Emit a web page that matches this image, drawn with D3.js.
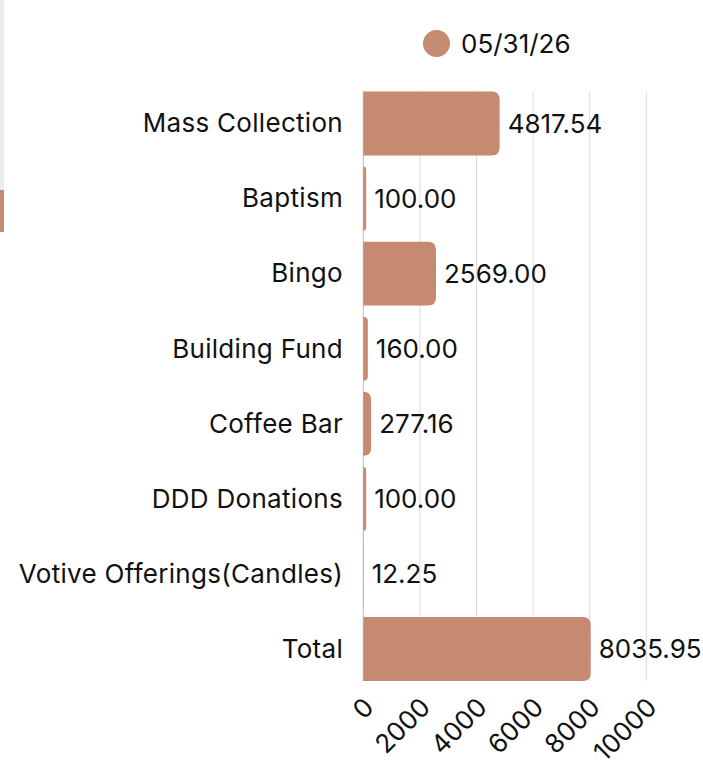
<!DOCTYPE html>
<html>
<head>
<meta charset="utf-8">
<script src="https://cdn.jsdelivr.net/npm/d3@7"></script>
<style>
  body { margin: 0; background: #fff; }
  svg { display: block; font-family: "Inter", "Noto Sans", sans-serif; }
</style>
</head>
<body>
<svg width="703" height="768"></svg>
<script>
// data
const categories = ["Mass Collection", "Baptism", "Bingo", "Building Fund", "Coffee Bar", "DDD Donations", "Votive Offerings(Candles)", "Total"];
const values = [4817.54, 100.00, 2569.00, 160.00, 277.16, 100.00, 12.25, 8035.95];
const seriesName = "05/31/26";
const tickValues = [0, 2000, 4000, 6000, 8000, 10000];

const barColor = "#c68a70";

const svg = d3.select("svg");

// strip on the left edge
svg.append("rect").attr("x", 0).attr("y", 0).attr("width", 4).attr("height", 190).attr("fill", "#ebebeb");
svg.append("rect").attr("x", 0).attr("y", 190).attr("width", 4).attr("height", 42).attr("fill", barColor);

const x = d3.scaleLinear().domain([0, 10000]).range([363.3, 646.3]);
const y = d3.scaleBand().domain(categories).range([91.5, 681]).paddingInner(0.148).paddingOuter(0);

// grid lines
svg.append("g").selectAll("line")
  .data(tickValues)
  .enter()
  .append("line")
  .attr("x1", d => x(d)).attr("x2", d => x(d))
  .attr("y1", y.range()[0]).attr("y2", y.range()[1])
  .attr("stroke", d => d === 0 ? "#b8b8b8" : "#dcdcdc")
  .attr("stroke-width", 1);

// bars with rounded right end
function barPath(d, i) {
  const x0 = x(0), x1 = x(d), y0 = y(categories[i]), h = y.bandwidth();
  const w = x1 - x0;
  const r = Math.min(8, w, h / 2);
  return `M${x0},${y0}H${x1 - r}Q${x1},${y0} ${x1},${y0 + r}V${y0 + h - r}Q${x1},${y0 + h} ${x1 - r},${y0 + h}H${x0}Z`;
}
svg.append("g").selectAll("path")
  .data(values)
  .enter()
  .append("path")
  .attr("d", barPath)
  .attr("fill", barColor);

// value labels
svg.append("g").selectAll("text")
  .data(values)
  .enter()
  .append("text")
  .attr("x", d => x(d) + 8)
  .attr("y", (d, i) => y(categories[i]) + y.bandwidth() / 2)
  .attr("dy", "0.36em")
  .style("font-size", "26px")
  .attr("fill", "#111")
  .text(d => d.toFixed(2));

// category labels
svg.append("g").selectAll("text")
  .data(categories)
  .enter()
  .append("text")
  .attr("x", 343)
  .attr("y", d => y(d) + y.bandwidth() / 2)
  .attr("dy", "0.34em")
  .style("text-anchor", "end")
  .style("font-size", "26px")
  .style("letter-spacing", "0.3px")
  .attr("fill", "#111")
  .text(d => d);

// x tick labels, rotated
svg.append("g").selectAll("text")
  .data(tickValues)
  .enter()
  .append("text")
  .attr("transform", d => `translate(${x(d) + 12},${709}) rotate(-45)`)
  .style("text-anchor", "end")
  .style("font-size", "26px")
  .attr("fill", "#111")
  .text(d => d);

// legend
svg.append("circle").attr("cx", 436.5).attr("cy", 43.5).attr("r", 13.5).attr("fill", barColor);
svg.append("text").attr("x", 461).attr("y", 43.5).attr("dy", "0.36em")
  .style("font-size", "26px").attr("fill", "#111").text(seriesName);
</script>
</body>
</html>
